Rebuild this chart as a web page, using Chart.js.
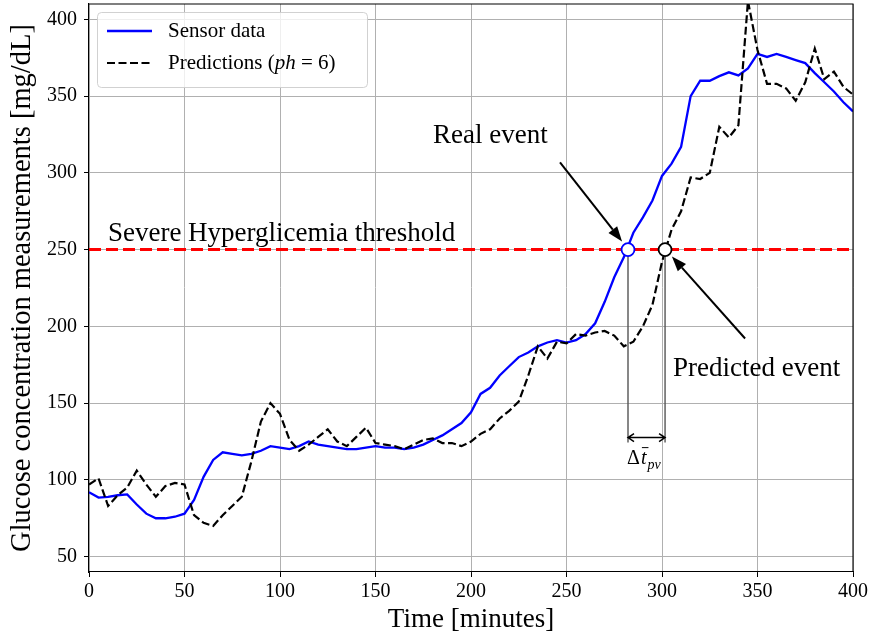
<!DOCTYPE html>
<html>
<head>
<meta charset="utf-8">
<script src="https://cdn.jsdelivr.net/npm/chart.js@4.4.1/dist/chart.umd.min.js"></script>
<style>
  html, body { margin: 0; padding: 0; background: #fff; }
</style>
</head>
<body>
<canvas id="chart-glucose" width="871" height="639"></canvas>
<script>
// time axis, 5 minute CGM samples
const times = [0, 5, 10, 15, 20, 25, 30, 35, 40, 45, 50, 55, 60, 65, 70, 75, 80, 85, 90, 95,
  100, 105, 110, 115, 120, 125, 130, 135, 140, 145, 150, 155, 160, 165, 170, 175, 180, 185, 190, 195,
  200, 205, 210, 215, 220, 225, 230, 235, 240, 245, 250, 255, 260, 265, 270, 275, 280, 285, 290, 295,
  300, 305, 310, 315, 320, 325, 330, 335, 340, 345, 350, 355, 360, 365, 370, 375, 380, 385, 390, 395, 400];

const sensorData = [92, 88.5, 89, 90, 90.5, 84, 78, 75, 75, 76, 78, 87, 102, 113, 118, 117, 116, 117, 119, 122,
  121, 120, 122, 125, 123, 122, 121, 120, 120, 121, 122, 121, 121, 120, 121, 123, 126, 129, 133, 137,
  144, 156, 160, 168, 174, 180, 183, 187, 189.5, 191, 189.5, 191, 195, 202, 216, 232, 245, 261, 271, 282,
  298, 306, 317, 350, 360, 360, 363, 365.5, 363.5, 368, 377.5, 375.5, 377.5, 375.5, 373.5, 371.5, 365, 359, 353, 346, 340];

const predictions = [97, 101, 83, 90, 95, 106, 97, 89, 96, 98, 97, 77, 72, 70, 77, 83, 89, 112, 138, 150,
  143, 126, 119, 123, 128, 133, 125, 122, 128, 134, 124, 123, 122, 120, 123, 126, 127, 124, 124, 122,
  125, 130, 133, 140, 145, 151, 168, 187, 179, 190, 189, 195, 194, 196, 197, 194, 187, 190, 200, 214,
  242, 263, 275, 297, 296, 300, 330, 323, 331, 412, 380, 358, 358, 355, 347, 359, 381, 361, 366, 356, 351];

const thresholdValue = 250;
const realEventTime = 282.2;
const predEventTime = 301.6;
const dropLineBottom = 124.3;   // where the two vertical guides end
const deltaArrowLevel = 127.6;  // height of the <-> arrow

const xTicks = [0, 50, 100, 150, 200, 250, 300, 350, 400];
const yTicks = [50, 100, 150, 200, 250, 300, 350, 400];

const FONT = "'Liberation Serif', 'Times New Roman', serif";

function toXY(xs, ys) {
  return xs.map((x, i) => ({ x: x, y: ys[i] }));
}

function arrow(ctx, x1, y1, x2, y2, headLen, headW) {
  const ang = Math.atan2(y2 - y1, x2 - x1);
  const bx = x2 - headLen * Math.cos(ang), by = y2 - headLen * Math.sin(ang);
  ctx.beginPath();
  ctx.moveTo(x1, y1);
  ctx.lineTo(bx, by);
  ctx.stroke();
  ctx.beginPath();
  ctx.moveTo(x2, y2);
  ctx.lineTo(bx + headW / 2 * Math.sin(ang), by - headW / 2 * Math.cos(ang));
  ctx.lineTo(bx - headW / 2 * Math.sin(ang), by + headW / 2 * Math.cos(ang));
  ctx.closePath();
  ctx.fill();
}

// frame, annotations and the delta-t marker
const annotations = {
  id: 'annotations',
  afterDatasetsDraw(chart) {
    const { ctx, chartArea: a, scales: { x, y } } = chart;
    ctx.save();

    // top + right spines
    ctx.strokeStyle = '#000';
    ctx.lineWidth = 1.1;
    ctx.beginPath();
    ctx.moveTo(a.left, a.top);
    ctx.lineTo(a.right, a.top);
    ctx.lineTo(a.right, a.bottom);
    ctx.stroke();

    ctx.fillStyle = '#000';
    ctx.textBaseline = 'alphabetic';
    ctx.textAlign = 'left';
    ctx.font = '27px ' + FONT;
    ctx.fillText('Severe Hyperglicemia threshold', x.getPixelForValue(9.9), y.getPixelForValue(255.3));
    ctx.fillText('Real event', x.getPixelForValue(180.1), y.getPixelForValue(319.2));
    ctx.fillText('Predicted event', x.getPixelForValue(305.8), y.getPixelForValue(168));

    ctx.strokeStyle = '#000';
    ctx.lineWidth = 2;
    arrow(ctx, x.getPixelForValue(246.6), y.getPixelForValue(306.8),
      x.getPixelForValue(279.1), y.getPixelForValue(255.3), 15, 11);
    arrow(ctx, x.getPixelForValue(343.5), y.getPixelForValue(192.1),
      x.getPixelForValue(305.2), y.getPixelForValue(245.6), 15, 11);

    // <-> between events
    const x1 = x.getPixelForValue(realEventTime), x2 = x.getPixelForValue(predEventTime);
    const ya = y.getPixelForValue(deltaArrowLevel);
    ctx.lineWidth = 1.5;
    ctx.beginPath();
    ctx.moveTo(x1, ya); ctx.lineTo(x2, ya);
    ctx.moveTo(x1 + 6, ya - 4); ctx.lineTo(x1, ya); ctx.lineTo(x1 + 6, ya + 4);
    ctx.moveTo(x2 - 6, ya - 4); ctx.lineTo(x2, ya); ctx.lineTo(x2 - 6, ya + 4);
    ctx.stroke();

    // \Delta \bar{t}_{pv}
    let lx = x.getPixelForValue(281.7);
    const ly = y.getPixelForValue(110.6);
    ctx.font = '20px ' + FONT;
    ctx.fillText('\u0394', lx, ly);
    lx += ctx.measureText('\u0394').width + 1;
    ctx.font = 'italic 20px ' + FONT;
    ctx.fillText('t', lx, ly);
    const tw = ctx.measureText('t').width;
    ctx.lineWidth = 1;
    ctx.beginPath();
    ctx.moveTo(lx + 1, ly - 16); ctx.lineTo(lx + tw + 2, ly - 16);
    ctx.stroke();
    lx += tw + 1;
    ctx.font = 'italic 14px ' + FONT;
    ctx.fillText('pv', lx, ly + 5);

    ctx.restore();
  }
};

const legendBox = {
  id: 'legendBox',
  afterDraw(chart) {
    const { ctx, chartArea: a } = chart;
    const bx = a.left + 8, by = a.top + 8, bw = 270, bh = 75;
    ctx.save();
    ctx.fillStyle = 'rgba(255,255,255,0.8)';
    ctx.strokeStyle = 'rgba(204,204,204,0.9)';
    ctx.lineWidth = 1;
    ctx.beginPath();
    ctx.roundRect(bx + 0.5, by + 0.5, bw, bh, 4);
    ctx.fill();
    ctx.stroke();

    const sensorDs = chart.data.datasets.find(d => d.label === 'Sensor data');
    const predDs = chart.data.datasets.find(d => d.label === 'Predictions');
    const rows = [
      { ds: sensorDs, yy: by + 19, parts: [['Sensor data', '']] },
      { ds: predDs, yy: by + 51, parts: [['Predictions (', ''], ['ph', 'italic '], [' = 6)', '']] }
    ];
    rows.forEach(r => {
      ctx.strokeStyle = r.ds.borderColor;
      ctx.lineWidth = r.ds.borderWidth;
      ctx.setLineDash(r.ds.borderDash || []);
      ctx.beginPath();
      ctx.moveTo(bx + 10, r.yy);
      ctx.lineTo(bx + 55, r.yy);
      ctx.stroke();
      ctx.setLineDash([]);
      let tx = bx + 71;
      ctx.fillStyle = '#000';
      ctx.textBaseline = 'middle';
      r.parts.forEach(p => {
        ctx.font = p[1] + '21px ' + FONT;
        ctx.fillText(p[0], tx, r.yy);
        tx += ctx.measureText(p[0]).width;
      });
    });
    ctx.restore();
  }
};

new Chart(document.getElementById('chart-glucose'), {
  type: 'line',
  data: {
    datasets: [
      {
        label: 'real event',
        data: [{ x: realEventTime, y: thresholdValue }],
        showLine: false,
        pointRadius: 6.5,
        pointBackgroundColor: '#ffffff',
        pointBorderColor: '#0000ff',
        pointBorderWidth: 1.8,
        order: 0
      },
      {
        label: 'predicted event',
        data: [{ x: predEventTime, y: thresholdValue }],
        showLine: false,
        pointRadius: 6.5,
        pointBackgroundColor: '#ffffff',
        pointBorderColor: '#000000',
        pointBorderWidth: 1.8,
        order: 0
      },
      {
        label: 'threshold',
        data: [{ x: 0, y: thresholdValue }, { x: 400, y: thresholdValue }],
        borderColor: '#ff0000',
        borderWidth: 3,
        borderDash: [12, 5],
        pointRadius: 0,
        order: 1
      },
      {
        label: 'real drop',
        data: [{ x: realEventTime, y: thresholdValue }, { x: realEventTime, y: dropLineBottom }],
        borderColor: '#555555',
        borderWidth: 1.4,
        pointRadius: 0,
        order: 2
      },
      {
        label: 'pred drop',
        data: [{ x: predEventTime, y: thresholdValue }, { x: predEventTime, y: dropLineBottom }],
        borderColor: '#555555',
        borderWidth: 1.4,
        pointRadius: 0,
        order: 2
      },
      {
        label: 'Predictions',
        data: toXY(times, predictions),
        borderColor: '#000000',
        borderWidth: 2.2,
        borderDash: [8, 3.5],
        pointRadius: 0,
        tension: 0,
        order: 3
      },
      {
        label: 'Sensor data',
        data: toXY(times, sensorData),
        borderColor: '#0000ff',
        borderWidth: 2.3,
        pointRadius: 0,
        tension: 0,
        order: 4
      }
    ]
  },
  options: {
    responsive: false,
    devicePixelRatio: 1,
    animation: false,
    layout: { autoPadding: false, padding: { top: 4, right: 18, left: 0, bottom: 0 } },
    plugins: {
      legend: { display: false },
      tooltip: { enabled: false }
    },
    scales: {
      x: {
        type: 'linear',
        min: 0,
        max: 400,
        afterBuildTicks: s => { s.ticks = xTicks.map(v => ({ value: v })); },
        afterFit: s => { s.height = 67; s.paddingLeft = 0; s.paddingRight = 0; },
        grid: { color: '#b0b0b0', lineWidth: 1, tickLength: 5, tickColor: '#000' },
        border: { color: '#000', width: 1.1 },
        ticks: { color: '#000', font: { family: FONT, size: 20 }, padding: 3, maxRotation: 0 },
        title: {
          display: true,
          text: 'Time [minutes]',
          color: '#000',
          font: { family: FONT, size: 27, lineHeight: 1.2 },
          padding: { top: 0, bottom: 3 }
        }
      },
      y: {
        type: 'linear',
        min: 40,
        max: 410,
        afterBuildTicks: s => { s.ticks = yTicks.map(v => ({ value: v })); },
        afterFit: s => { s.width = 89; s.paddingTop = 0; s.paddingBottom = 0; },
        grid: { color: '#b0b0b0', lineWidth: 1, tickLength: 5, tickColor: '#000' },
        border: { color: '#000', width: 1.1 },
        ticks: { color: '#000', font: { family: FONT, size: 20, lineHeight: 0.5 }, padding: 7 },
        title: {
          display: true,
          text: 'Glucose concentration measurements [mg/dL]',
          color: '#000',
          font: { family: FONT, size: 28.5, lineHeight: 1.2 },
          padding: { top: 5, bottom: 0 }
        }
      }
    }
  },
  plugins: [annotations, legendBox]
});
</script>
</body>
</html>
